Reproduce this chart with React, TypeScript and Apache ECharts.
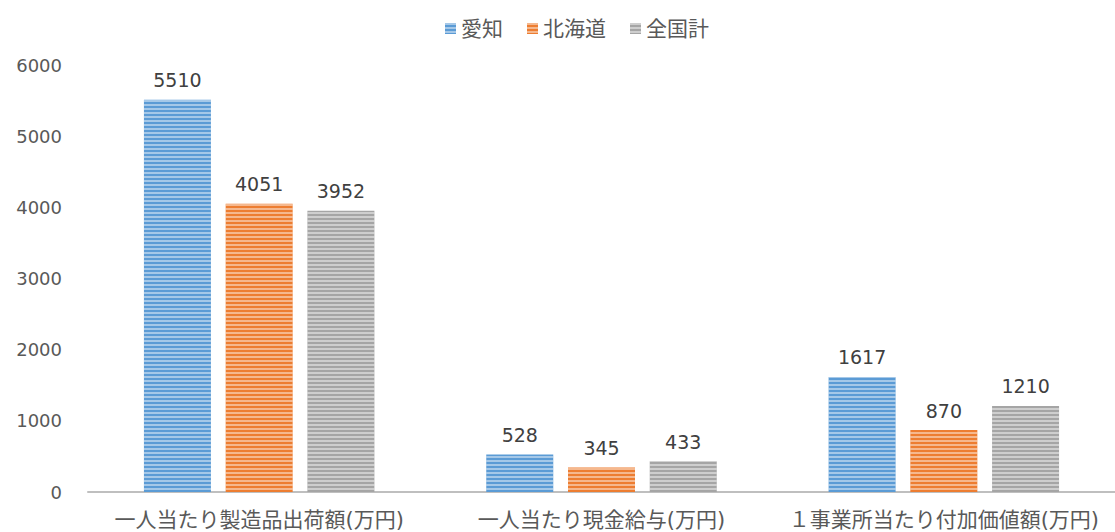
import React, { useEffect, useRef } from "react";
import * as echarts from "echarts";

const categories = ["一人当たり製造品出荷額(万円)", "一人当たり現金給与(万円)", "１事業所当たり付加価値額(万円)"];
const seriesNames = ["愛知", "北海道", "全国計"];
const aichi = [5510, 528, 1617];
const hokkaido = [4051, 345, 870];
const national = [3952, 433, 1210];
const colors = ["#5b9bd5", "#ed7d31", "#a5a5a5"];

const FONT = "'DejaVu Sans', 'Noto Sans CJK JP', sans-serif";

export default function App() {
  const ref = useRef<HTMLDivElement>(null);
  useEffect(() => {
    const chart = echarts.init(ref.current!, null, { renderer: "svg" });
    const values = [aichi, hokkaido, national];
    chart.setOption({
      animation: false,
      textStyle: { fontFamily: FONT },
      legend: {
        top: 13,
        left: 440,
        itemWidth: 11,
        itemHeight: 11,
        itemGap: 24,
        icon: "rect",
        textStyle: { fontSize: 21, color: "#595959", fontFamily: FONT },
        data: seriesNames,
      },
      grid: { left: 88, top: 65, width: 1032, height: 427 },
      xAxis: {
        type: "category",
        data: categories,
        axisLine: { lineStyle: { color: "#bfbfbf", width: 2 } },
        axisTick: { show: false },
        axisLabel: { interval: 0, fontSize: 21, color: "#595959", margin: 17, fontFamily: FONT },
      },
      yAxis: {
        type: "value",
        min: 0,
        max: 6000,
        interval: 1000,
        splitLine: { show: false },
        axisLine: { show: false },
        axisTick: { show: false },
        axisLabel: {
          fontSize: 18,
          color: "#595959",
          margin: 26,
          fontFamily: FONT,
          formatter: (v: number) => String(v),
        },
      },
      series: seriesNames.map((name, i) => ({
        name,
        type: "bar",
        data: values[i],
        barWidth: 67,
        barGap: "22%",
        itemStyle: {
          color: colors[i],
          decal: {
            symbol: "rect",
            symbolSize: 1,
            dashArrayX: [1, 0],
            dashArrayY: [2, 2],
            rotation: 0,
            color: "rgba(255,255,255,0.45)",
          },
        },
        label: {
          show: true,
          position: "top",
          distance: 10,
          fontSize: 19,
          color: "#404040",
          fontFamily: FONT,
        },
      })),
    });
    return () => chart.dispose();
  }, []);
  return (
    <div
      ref={ref}
      style={{ position: "fixed", left: 0, top: 0, width: 1115, height: 532, background: "#fff" }}
    />
  );
}
